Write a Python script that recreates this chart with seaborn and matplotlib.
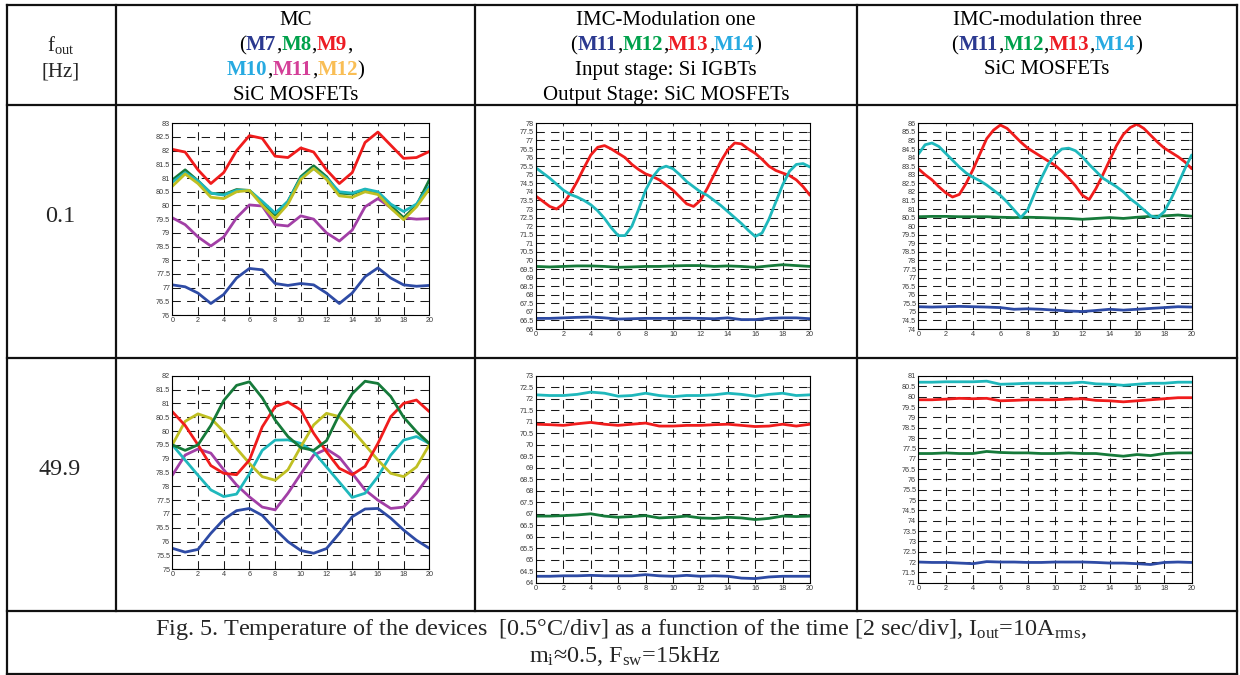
import matplotlib
matplotlib.use("Agg")
import matplotlib.pyplot as plt
from matplotlib.lines import Line2D
import numpy as np
import seaborn as sns

# ---------------- data ----------------
t1 = list(range(0, 21))                       # 1 s steps
t05 = [i * 0.5 for i in range(41)]            # 0.5 s steps

# Panel A: MC, fout = 0.1 Hz
A_M7 = [77.1, 77.03, 76.8, 76.42, 76.75, 77.35, 77.7, 77.65, 77.15, 77.08, 77.15,
        77.1, 76.8, 76.42, 76.8, 77.4, 77.72, 77.35, 77.1, 77.05, 77.08]
A_M8 = [80.93, 81.3, 80.9, 80.45, 80.4, 80.58, 80.55, 80.1, 79.65, 80.15, 81.05,
        81.45, 81.05, 80.45, 80.42, 80.58, 80.45, 80.0, 79.55, 80.0, 80.93]
A_M9 = [82.05, 81.95, 81.3, 80.8, 81.2, 82.0, 82.55, 82.45, 81.8, 81.75, 82.1,
        81.95, 81.3, 80.8, 81.2, 82.3, 82.68, 82.2, 81.72, 81.75, 81.97]
A_M10 = [80.85, 81.2, 80.9, 80.45, 80.38, 80.55, 80.55, 80.15, 79.72, 80.15, 81.0,
         81.35, 81.0, 80.5, 80.45, 80.6, 80.5, 80.05, 79.78, 80.05, 80.7]
A_M11 = [79.55, 79.3, 78.85, 78.52, 78.85, 79.55, 80.02, 79.98, 79.3, 79.25, 79.62,
         79.5, 79.0, 78.7, 79.1, 79.95, 80.25, 79.92, 79.55, 79.5, 79.52]
A_M12 = [80.7, 81.15, 80.8, 80.3, 80.25, 80.5, 80.55, 80.0, 79.52, 80.05, 80.95,
         81.35, 80.95, 80.35, 80.3, 80.5, 80.4, 79.9, 79.48, 79.95, 80.6]

# Panel B: IMC modulation one, fout = 0.1 Hz (0.5 s steps for M13/M14)
B_M13 = [73.75, 73.45, 73.15, 73.0, 73.3, 73.9, 74.6, 75.4, 76.15, 76.6, 76.7,
         76.5, 76.25, 76.0, 75.6, 75.3, 75.05, 74.9, 74.7, 74.4, 74.1,
         73.7, 73.3, 73.15, 73.5, 74.2, 75.0, 75.8, 76.45, 76.85, 76.8,
         76.5, 76.25, 75.9, 75.5, 75.25, 75.1, 74.95, 74.7, 74.3, 73.8]
B_M14 = [75.4, 75.1, 74.8, 74.45, 74.1, 73.85, 73.7, 73.5, 73.25, 72.9, 72.45,
         71.9, 71.45, 71.45, 72.0, 73.0, 74.1, 74.85, 75.35, 75.5, 75.35,
         75.0, 74.6, 74.3, 74.0, 73.8, 73.5, 73.2, 72.85, 72.5, 72.15,
         71.75, 71.4, 71.6, 72.4, 73.4, 74.4, 75.2, 75.6, 75.65, 75.45]
B_M12 = [69.65, 69.62, 69.65, 69.68, 69.68, 69.65, 69.6, 69.62, 69.65, 69.65, 69.68,
         69.7, 69.7, 69.65, 69.68, 69.65, 69.6, 69.68, 69.75, 69.7, 69.65]
B_M11 = [66.62, 66.62, 66.65, 66.68, 66.7, 66.65, 66.58, 66.6, 66.62, 66.62, 66.62,
         66.63, 66.62, 66.6, 66.65, 66.55, 66.55, 66.62, 66.65, 66.65, 66.6]

# Panel C: IMC modulation three, fout = 0.1 Hz (0.5 s steps for M13/M14)
C_M13 = [83.35, 83.0, 82.7, 82.3, 81.95, 81.7, 81.85, 82.5, 83.3, 84.2, 85.1,
         85.6, 85.9, 85.7, 85.3, 84.9, 84.55, 84.3, 84.05, 83.8, 83.55,
         83.2, 82.8, 82.35, 81.8, 81.55, 82.2, 83.0, 83.85, 84.7, 85.35,
         85.75, 85.95, 85.7, 85.3, 84.9, 84.55, 84.3, 84.05, 83.75, 83.35]
C_M14 = [84.2, 84.75, 84.85, 84.65, 84.25, 83.85, 83.45, 83.1, 82.85, 82.65, 82.4,
         82.1, 81.8, 81.4, 80.95, 80.5, 80.95, 81.9, 82.8, 83.6, 84.15,
         84.5, 84.55, 84.4, 84.05, 83.6, 83.2, 82.8, 82.55, 82.3, 82.0,
         81.6, 81.3, 80.95, 80.6, 80.5, 80.85, 81.6, 82.45, 83.35, 84.15]
C_M12 = [80.55, 80.57, 80.57, 80.55, 80.55, 80.55, 80.52, 80.5, 80.52, 80.5, 80.47,
         80.45, 80.4, 80.45, 80.5, 80.45, 80.52, 80.57, 80.6, 80.65, 80.58]
C_M11 = [75.3, 75.28, 75.3, 75.32, 75.3, 75.28, 75.25, 75.15, 75.18, 75.15, 75.1,
         75.05, 75.02, 75.08, 75.15, 75.1, 75.15, 75.2, 75.25, 75.3, 75.28]

# Panel D: MC, fout = 49.9 Hz
D_M7 = [75.76, 75.62, 75.72, 76.3, 76.8, 77.12, 77.2, 76.95, 76.45, 76.0, 75.68,
        75.58, 75.75, 76.3, 76.9, 77.18, 77.2, 76.85, 76.42, 76.05, 75.76]
D_M8 = [79.5, 79.3, 79.5, 80.2, 81.1, 81.65, 81.78, 81.2, 80.4, 79.8, 79.4,
        79.3, 79.65, 80.6, 81.35, 81.8, 81.72, 81.25, 80.5, 79.98, 79.55]
D_M9 = [80.7, 80.2, 79.5, 78.75, 78.47, 78.42, 78.95, 80.15, 80.88, 81.05, 80.76,
        79.92, 79.25, 78.65, 78.42, 78.72, 79.55, 80.52, 81.0, 81.12, 80.7]
D_M10 = [79.5, 78.95, 78.4, 77.87, 77.63, 77.72, 78.45, 79.3, 79.67, 79.68, 79.55,
         79.25, 78.7, 78.15, 77.6, 77.75, 78.35, 79.13, 79.67, 79.8, 79.55]
D_M11 = [78.4, 79.13, 79.35, 79.2, 78.6, 78.05, 77.62, 77.25, 77.15, 77.75, 78.45,
         79.13, 79.35, 79.05, 78.47, 77.87, 77.5, 77.2, 77.25, 77.75, 78.4]
D_M12 = [79.5, 80.35, 80.62, 80.46, 79.98, 79.37, 78.83, 78.35, 78.22, 78.6, 79.43,
         80.22, 80.64, 80.52, 80.04, 79.5, 78.95, 78.47, 78.35, 78.7, 79.5]

# Panel E: IMC modulation one, fout = 49.9 Hz
E_M14 = [72.18, 72.15, 72.15, 72.2, 72.3, 72.25, 72.12, 72.15, 72.25, 72.15, 72.1,
         72.15, 72.15, 72.18, 72.25, 72.2, 72.12, 72.2, 72.25, 72.15, 72.18]
E_M13 = [70.9, 70.88, 70.85, 70.92, 70.98, 70.9, 70.85, 70.9, 70.95, 70.82, 70.82,
         70.85, 70.85, 70.88, 70.9, 70.85, 70.8, 70.82, 70.9, 70.82, 70.9]
E_M12 = [66.9, 66.9, 66.92, 66.95, 67.0, 66.9, 66.85, 66.88, 66.92, 66.82, 66.85,
         66.9, 66.82, 66.8, 66.85, 66.82, 66.75, 66.8, 66.9, 66.88, 66.9]
E_M11 = [64.28, 64.28, 64.3, 64.3, 64.32, 64.3, 64.3, 64.3, 64.35, 64.3, 64.28,
         64.32, 64.28, 64.3, 64.28, 64.2, 64.18, 64.25, 64.28, 64.28, 64.28]

# Panel F: IMC modulation three, fout = 49.9 Hz
F_M14 = [80.7, 80.7, 80.72, 80.72, 80.72, 80.75, 80.6, 80.62, 80.65, 80.65, 80.65,
         80.65, 80.7, 80.62, 80.6, 80.55, 80.6, 80.65, 80.65, 80.7, 80.7]
F_M13 = [79.85, 79.85, 79.88, 79.92, 79.9, 79.92, 79.8, 79.82, 79.85, 79.85, 79.85,
         79.88, 79.9, 79.82, 79.8, 79.75, 79.8, 79.85, 79.9, 79.95, 79.95]
F_M12 = [77.25, 77.25, 77.28, 77.25, 77.25, 77.35, 77.3, 77.28, 77.28, 77.25, 77.25,
         77.28, 77.25, 77.25, 77.18, 77.12, 77.2, 77.15, 77.25, 77.28, 77.28]
F_M11 = [72.0, 71.98, 71.98, 71.95, 71.92, 72.02, 72.0, 72.0, 71.98, 71.98, 72.0,
         72.0, 72.0, 71.98, 71.95, 71.95, 71.92, 71.88, 71.98, 72.0, 71.98]

ylims = {"A": (76, 83), "B": (66, 78), "C": (74, 86),
         "D": (75, 82), "E": (64, 73), "F": (71, 81)}

row_labels = ["0.1", "49.9"]
caption1 = (r"Fig. 5. Temperature of the devices  [0.5°C/div] as a function of the time "
            r"[2 sec/div], I$_{\mathrm{out}}$=10A$_{\mathrm{rms}}$,")
caption2 = r"m$_{\mathrm{i}}$≈0.5, F$_{\mathrm{sw}}$=15kHz"

# ---------------- style ----------------
sns.set_style("white")
plt.rcParams["font.family"] = ["Liberation Serif", "DejaVu Serif"]
plt.rcParams["mathtext.fontset"] = "custom"
plt.rcParams["mathtext.rm"] = "Liberation Serif"
plt.rcParams["mathtext.it"] = "Liberation Serif:italic"
plt.rcParams["mathtext.bf"] = "Liberation Serif:bold"

W, H = 1240, 675
fig = plt.figure(figsize=(W / 100, H / 100), dpi=100)
fig.patch.set_facecolor("white")

LC = dict(blue="#2E4BA5", green="#167A3A", red="#F01C1C",
          cyan="#1FB8BC", mag="#A23FA6", yel="#BFBF22")
HC = dict(blue="#2B3990", green="#00A14B", red="#ED1C24",
          cyan="#27AAE1", mag="#D43F98", yel="#F9BE55")


def px_axes(l, t, r, b):
    return fig.add_axes([l / W, 1 - b / H, (r - l) / W, (b - t) / H])


def style_axes(ax, ylim):
    ax.set_xlim(0, 20)
    ax.set_ylim(*ylim)
    ax.set_xticks(np.arange(0, 21, 2))
    ax.set_yticks(np.arange(ylim[0], ylim[1] + 0.01, 0.5))
    ax.yaxis.set_major_formatter(matplotlib.ticker.FormatStrFormatter("%g"))
    ax.xaxis.set_major_formatter(matplotlib.ticker.FormatStrFormatter("%g"))
    ax.grid(True, color="#1a1a1a", linestyle=(0, (8, 6)), linewidth=0.75)
    ax.set_axisbelow(True)
    for s in ax.spines.values():
        s.set_visible(True)
        s.set_color("black")
        s.set_linewidth(0.8)
    ax.tick_params(direction="in", length=2, width=0.5, top=True, right=True,
                   labelsize=5.2, labelcolor="#3a3a3a", pad=1.5)
    for lab in ax.get_xticklabels() + ax.get_yticklabels():
        lab.set_family(["Liberation Sans", "DejaVu Sans"])
    ax.set_xlabel("")
    ax.set_ylabel("")


def draw(ax, series):
    for x, y, c in series:
        sns.lineplot(x=x, y=y, ax=ax, color=LC[c], linewidth=2.0, legend=False)


axA = px_axes(172.3, 123.3, 429.3, 315)
axB = px_axes(536, 123.3, 810, 329)
axC = px_axes(918.3, 123.3, 1191.7, 329)
axD = px_axes(172.3, 375.7, 429.3, 569.3)
axE = px_axes(536, 376, 810, 582.7)
axF = px_axes(918.3, 376, 1191.7, 582.7)

draw(axA, [(t1, A_M7, "blue"), (t1, A_M11, "mag"), (t1, A_M9, "red"),
           (t1, A_M8, "green"), (t1, A_M10, "cyan"), (t1, A_M12, "yel")])
draw(axB, [(t1, B_M11, "blue"), (t1, B_M12, "green"),
           (t05, B_M13, "red"), (t05, B_M14, "cyan")])
draw(axC, [(t1, C_M11, "blue"), (t1, C_M12, "green"),
           (t05, C_M13, "red"), (t05, C_M14, "cyan")])
draw(axD, [(t1, D_M7, "blue"), (t1, D_M11, "mag"), (t1, D_M10, "cyan"),
           (t1, D_M12, "yel"), (t1, D_M9, "red"), (t1, D_M8, "green")])
draw(axE, [(t1, E_M11, "blue"), (t1, E_M12, "green"),
           (t1, E_M13, "red"), (t1, E_M14, "cyan")])
draw(axF, [(t1, F_M11, "blue"), (t1, F_M12, "green"),
           (t1, F_M13, "red"), (t1, F_M14, "cyan")])

for ax, k in [(axA, "A"), (axB, "B"), (axC, "C"), (axD, "D"), (axE, "E"), (axF, "F")]:
    style_axes(ax, ylims[k])

# ---------------- table frame ----------------
def hline(y, x0=7, x1=1236.5, lw=1.6):
    fig.add_artist(Line2D([x0 / W, x1 / W], [1 - y / H, 1 - y / H],
                          transform=fig.transFigure, color="#111111", lw=lw,
                          solid_capstyle="projecting"))


def vline(x, y0=5, y1=611, lw=1.6):
    fig.add_artist(Line2D([x / W, x / W], [1 - y0 / H, 1 - y1 / H],
                          transform=fig.transFigure, color="#111111", lw=lw,
                          solid_capstyle="projecting"))


hline(5)
hline(105)
hline(358)
hline(611)
hline(673.5)
vline(7, 5, 673.5)
vline(1236.5, 5, 673.5)
vline(116)
vline(475)
vline(857)

# ---------------- text ----------------
FS = 15        # header text
FS_BIG = 17.4  # row labels and caption
renderer = fig.canvas.get_renderer()


def rich_line(pieces, cx, base):
    arts = []
    for s, col, bold in pieces:
        a = fig.text(0, 0, s, color=col, fontsize=FS,
                     family=["Liberation Serif", "DejaVu Serif"],
                     fontweight="bold" if bold else "normal",
                     va="baseline", ha="left")
        arts.append(a)
    widths = [a.get_window_extent(renderer=renderer).width for a in arts]
    x = cx - sum(widths) / 2
    for a, w in zip(arts, widths):
        a.set_position((x / W, 1 - base / H))
        x += w


K = "black"


def mlist(names, colors, open_p=True, close_p=True, trail=False):
    p = [("(", K, False)] if open_p else []
    for i, (n, c) in enumerate(zip(names, colors)):
        p.append((n, HC[c], True))
        if i < len(names) - 1 or trail:
            p.append((",", K, False))
    if close_p:
        p.append((")", K, False))
    return p


c1, c2, c3 = 295.5, 666, 1047
rich_line([("MC", K, False)], c1, 25)
rich_line(mlist(["M7", "M8", "M9"], ["blue", "green", "red"], True, False, True), c1, 50)
rich_line(mlist(["M10", "M11", "M12"], ["cyan", "mag", "yel"], False, True), c1, 75)
rich_line([("SiC MOSFETs", K, False)], c1, 100)

rich_line([("IMC-Modulation one", K, False)], c2, 25)
rich_line(mlist(["M11", "M12", "M13", "M14"], ["blue", "green", "red", "cyan"]), c2, 50)
rich_line([("Input stage: Si IGBTs", K, False)], c2, 75)
rich_line([("Output Stage: SiC MOSFETs", K, False)], c2, 100)

rich_line([("IMC-modulation three", K, False)], c3, 25)
rich_line(mlist(["M11", "M12", "M13", "M14"], ["blue", "green", "red", "cyan"]), c3, 50)
rich_line([("SiC MOSFETs", K, False)], c3, 74)

fig.text(61 / W, 1 - 51 / H, r"f$_{\mathrm{out}}$", fontsize=FS, ha="center", va="baseline")
fig.text(61 / W, 1 - 77 / H, "[Hz]", fontsize=FS, ha="center", va="baseline")
fig.text(60 / W, 1 - 222 / H, row_labels[0], fontsize=FS_BIG, ha="center", va="baseline")
fig.text(60 / W, 1 - 475 / H, row_labels[1], fontsize=FS_BIG, ha="center", va="baseline")

fig.text(621 / W, 1 - 635 / H, caption1, fontsize=FS_BIG, ha="center", va="baseline")
fig.text(625 / W, 1 - 662 / H, caption2, fontsize=FS_BIG, ha="center", va="baseline")

fig.savefig("out.png", dpi=100, facecolor="white")
